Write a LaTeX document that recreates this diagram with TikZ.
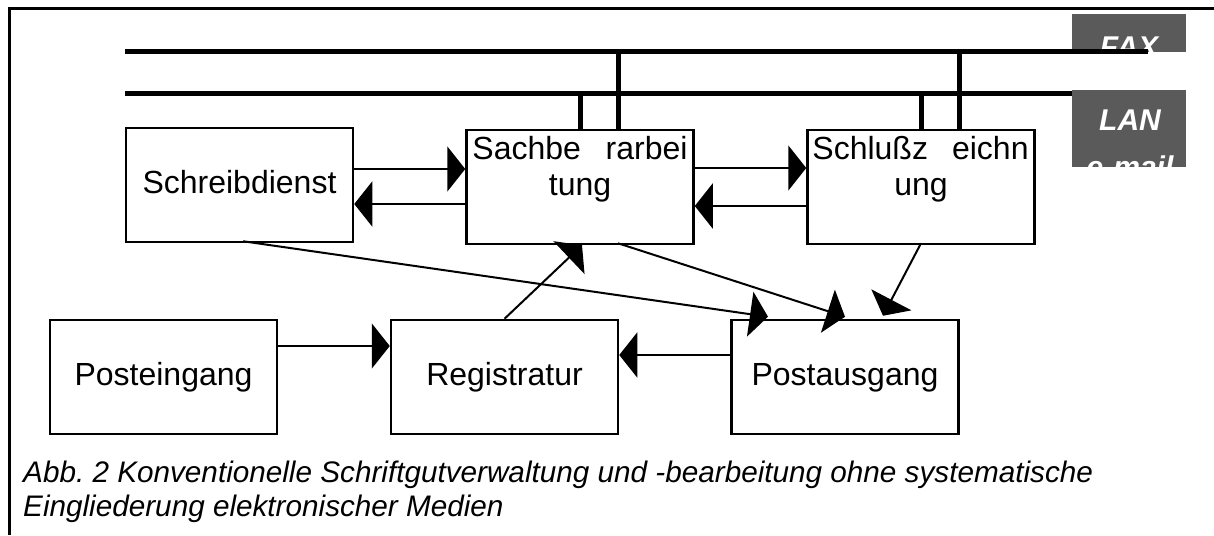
\documentclass[tikz,border=0pt]{standalone}
\usepackage{fontspec}
\setmainfont{Liberation Sans}
\usetikzlibrary{arrows.meta,calc}
\definecolor{tagfill}{RGB}{90,90,90}
\newcommand\boxfont{\fontsize{32}{36}\selectfont}
\newcommand\capfont{\fontsize{29.7}{36}\selectfont\itshape}
\newcommand\tagfont{\fontsize{30}{40}\selectfont\bfseries\itshape}
\begin{document}
\begin{tikzpicture}[x=1pt,y=-1pt,
  box/.style={draw,line width=2.5pt,minimum width=227pt,minimum height=114pt,
              inner sep=0pt,font=\boxfont,text height=23pt,text depth=7pt},
  lbl/.style={inner sep=0pt,font=\boxfont},
  flow/.style={line width=2pt,-{Triangle[length=18pt,width=45pt]}},
  bus/.style={line width=5pt},
  tag/.style={inner sep=0pt,font=\tagfont,text=white},
  captionline/.style={inner sep=0pt,font=\capfont,anchor=base west}]
\useasboundingbox (0,0) rectangle (1214,535);

% open frame: top and left edge
\draw[line width=3pt] (9.5,535) -- (9.5,8.5) -- (1214,8.5);

% network tags
\fill[tagfill] (1072,14) rectangle (1186,52);
\fill[tagfill] (1072,90) rectangle (1186,167);
\begin{scope}
  \clip (1072,14) rectangle (1186,52);
  \node[tag,anchor=base] (fax) at (1129,57) {FAX};
\end{scope}
\begin{scope}
  \clip (1072,90) rectangle (1186,167);
  \node[tag,anchor=base] (lan) at (1130,130) {LAN};
  \node[tag,anchor=base] (mail) at (1130,177) {e-mail};
\end{scope}

% bus lines
\coordinate (faxW) at (125,52);
\coordinate (faxE) at (1148,52);
\coordinate (lanW) at (125,93);
\coordinate (lanE) at (1072,93);
\draw[bus] (faxW) -- (faxE);
\draw[bus] (lanW) -- (lanE);

% boxes
\node[box] (schreib) at (239.5,185) {Schreibdienst};
\node[box] (sach) at (580,187) {};
\node[box] (schluss) at (921,187) {};
\node[box] (postein) at (163.5,377) {Posteingang};
\node[box] (reg) at (504.5,377) {Registratur};
\node[box] (postaus) at (845,377) {Postausgang};

% split labels
\node[lbl,anchor=base west] (sach1) at ($(sach.north west)+(7,31)$) {Sachbe};
\node[lbl,anchor=base east] (sach2) at ($(sach.north east)+(-7,31)$) {rarbei};
\node[lbl,anchor=base] (sach3) at ($(sach.north)+(0,67)$) {tung};
\node[lbl,anchor=base west] (schl1) at ($(schluss.north west)+(6,31)$) {Schlußz};
\node[lbl,anchor=base east] (schl2) at ($(schluss.north east)+(-7,31)$) {eichn};
\node[lbl,anchor=base] (schl3) at ($(schluss.north)+(0,67)$) {ung};

% stubs to the bus lines
\coordinate (sachF) at ($(sach.north)+(38,0)$);
\coordinate (schlF) at ($(schluss.north)+(38,0)$);
\draw[bus] (sach.north) -- (sach.north |- lanW);
\draw[bus] (sachF) -- (sachF |- faxW);
\draw[bus] (schluss.north) -- (schluss.north |- lanW);
\draw[bus] (schlF) -- (schlF |- faxW);

% flows
\draw[flow] ([yshift=16pt]schreib.east) -- ([yshift=18pt]sach.west);
\draw[flow] ([yshift=-17pt]sach.west) -- ([yshift=-19pt]schreib.east);
\draw[flow] ([yshift=19pt]sach.east) -- ([yshift=19pt]schluss.west);
\draw[flow] ([yshift=-19pt]schluss.west) -- ([yshift=-19pt]sach.east);
\draw[flow] ([yshift=31pt]postein.east) -- ([yshift=31pt]reg.west);
\draw[flow] ([yshift=22pt]postaus.west) -- ([yshift=22pt]reg.east);
\draw[flow] (reg.north) -- ([xshift=2pt]sach.south);
\draw[flow] ([xshift=3.5pt,yshift=2pt]schreib.south) -- ([xshift=-77pt,yshift=2pt]postaus.north);
\draw[flow] ([xshift=38pt,yshift=2pt]sach.south) -- ([yshift=2pt]postaus.north);
\draw[flow] ([yshift=2pt]schluss.south) -- ([xshift=38pt,yshift=3pt]postaus.north);

% caption
\node[captionline] (cap1) at (23,482) {Abb.\ 2 Konventionelle Schriftgutverwaltung und -bearbeitung ohne systematische};
\node[captionline] (cap2) at (23,516) {Eingliederung elektronischer Medien};
\end{tikzpicture}
\end{document}
